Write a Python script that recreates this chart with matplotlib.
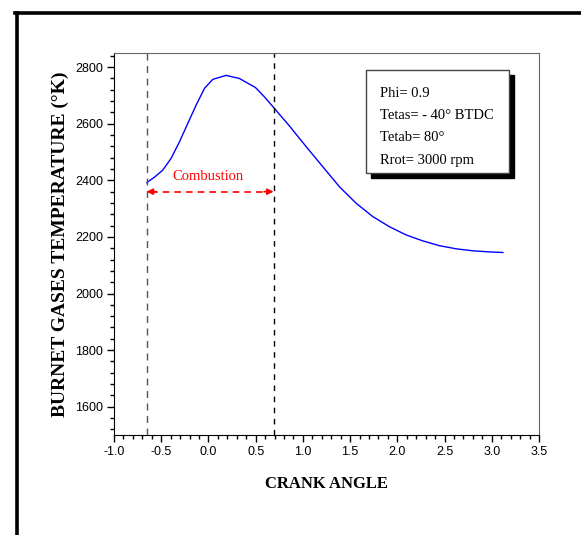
import matplotlib
matplotlib.use("Agg")
import matplotlib.pyplot as plt
from matplotlib.lines import Line2D
from matplotlib.patches import Rectangle
from matplotlib.ticker import MultipleLocator

# burnt gas temperature vs crank angle
crank = [-0.653, -0.572, -0.484, -0.395, -0.307, -0.219, -0.130, -0.042, 0.046, 0.187,
         0.328, 0.498, 0.593, 0.699, 0.858, 1.035, 1.211, 1.388, 1.564, 1.740,
         1.917, 2.094, 2.270, 2.447, 2.624, 2.800, 2.977, 3.118]
temp = [2392, 2411, 2436, 2478, 2536, 2601, 2666, 2725, 2757, 2771,
        2760, 2728, 2695, 2654, 2592, 2519, 2448, 2377, 2319, 2272,
        2236, 2207, 2186, 2169, 2158, 2151, 2147, 2145]

comb_start = -0.655
comb_end = 0.69
comb_arrow_y = 2360
params = ["Phi= 0.9", "Tetas= - 40° BTDC", "Tetab= 80°", "Rrot= 3000 rpm"]

serif = "Liberation Serif"
sans = "Liberation Sans"

fig = plt.figure(figsize=(5.81, 5.35), dpi=100)
ax = fig.add_axes([0.1962, 0.1869, 0.7315, 0.714])

# outer frame (top and left edges)
fig.add_artist(Line2D([0.026, 1.0], [0.9766, 0.9766], color="black", lw=2.6,
                      transform=fig.transFigure))
fig.add_artist(Line2D([0.0293, 0.0293], [0.9766, 0.0], color="black", lw=2.6,
                      transform=fig.transFigure))

ax.plot(crank, temp, color="#0000ff", lw=1.0)

ax.axvline(comb_start, color="#555555", lw=1.0, ls=(0, (5, 4)))
ax.axvline(comb_end, color="black", lw=1.0, ls=(0, (4, 4)))

# combustion span
ax.plot([comb_start + 0.05, comb_end - 0.05], [comb_arrow_y, comb_arrow_y],
        color="red", lw=1.2, ls=(0, (4, 3)))
ax.annotate("", xy=(comb_start, comb_arrow_y), xytext=(comb_start + 0.1, comb_arrow_y),
            arrowprops=dict(arrowstyle="-|>", color="red", lw=1.2,
                            shrinkA=0, shrinkB=0, mutation_scale=9))
ax.annotate("", xy=(comb_end, comb_arrow_y), xytext=(comb_end - 0.1, comb_arrow_y),
            arrowprops=dict(arrowstyle="-|>", color="red", lw=1.2,
                            shrinkA=0, shrinkB=0, mutation_scale=9))
ax.text(0.0, 2415, "Combustion", color="red", family=serif, fontsize=10.5,
        ha="center", va="center")

# parameter box with drop shadow
ax.add_patch(Rectangle((0.605, 0.673), 0.336, 0.27, transform=ax.transAxes,
                       facecolor="black", edgecolor="black", zorder=3))
ax.add_patch(Rectangle((0.593, 0.686), 0.336, 0.27, transform=ax.transAxes,
                       facecolor="white", edgecolor="#444444", lw=1.0, zorder=4))
for i, line in enumerate(params):
    ax.text(0.627, 0.895 - i * 0.0585, line, transform=ax.transAxes, family=serif,
            fontsize=10.5, ha="left", va="center", zorder=5)

ax.set_xlim(-1.0, 3.5)
ax.set_ylim(1500, 2850)
ax.xaxis.set_major_locator(MultipleLocator(0.5))
ax.xaxis.set_minor_locator(MultipleLocator(0.1))
ax.yaxis.set_major_locator(MultipleLocator(200))
ax.yaxis.set_minor_locator(MultipleLocator(40))
ax.set_yticks([1600, 1800, 2000, 2200, 2400, 2600, 2800])
ax.tick_params(which="both", direction="out", top=False, right=False, width=1.0)
ax.tick_params(which="major", length=5, labelsize=9, pad=3)
ax.tick_params(which="minor", length=3)
ax.xaxis.set_major_formatter(plt.FuncFormatter(lambda v, p: f"{v:.1f}"))
for lab in ax.get_xticklabels() + ax.get_yticklabels():
    lab.set_family(sans)

for side in ["top", "right"]:
    ax.spines[side].set_color("#666666")
for side in ["left", "bottom"]:
    ax.spines[side].set_color("black")

ax.set_xlabel("CRANK ANGLE", family=serif, fontweight="bold", fontsize=12, labelpad=13)
ax.set_ylabel("BURNET GASES TEMPERATURE (°K)", family=serif, fontweight="bold",
              fontsize=14, labelpad=4)

fig.savefig("out.png", dpi=100)
